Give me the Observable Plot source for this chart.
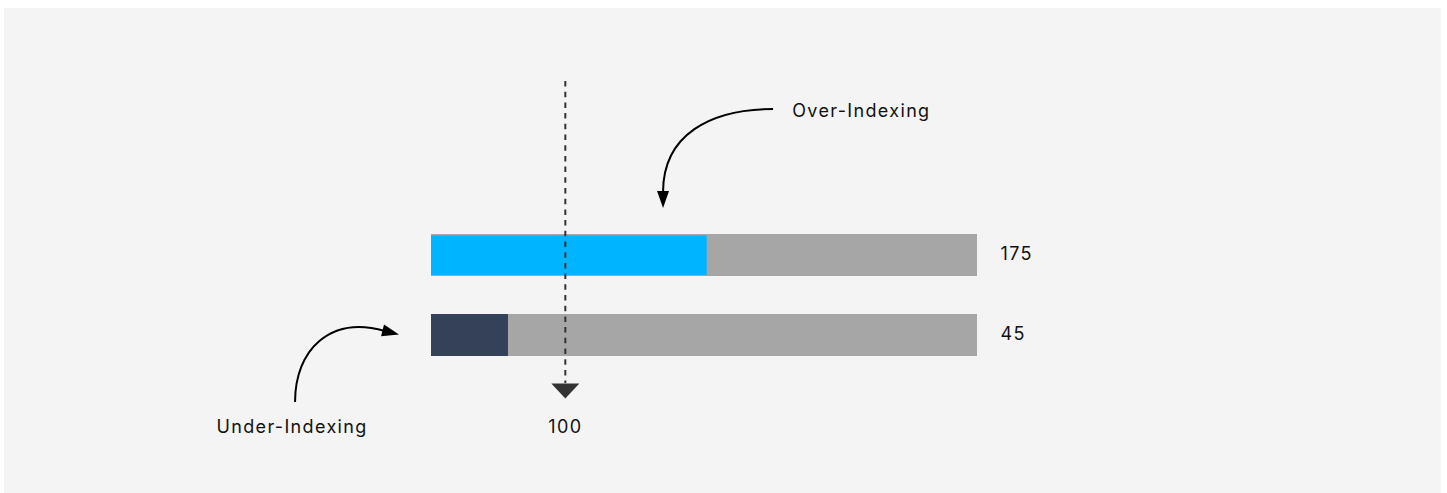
<!DOCTYPE html>
<html><head><meta charset="utf-8">
<script src="https://cdn.jsdelivr.net/npm/d3@7"></script>
<script src="https://cdn.jsdelivr.net/npm/@observablehq/plot@0.6"></script>
<style>
html,body{margin:0;padding:0;background:#fff;}
#panel{position:absolute;left:4px;top:8px;width:1437px;height:485px;background:#f4f4f4;}
#panel svg{display:block;overflow:visible;}
</style></head><body><div id="panel"></div>
<script>
// ---- data ----
const categories = ["Over-Indexing", "Under-Indexing"];
const indexLabels = [175, 45];          // numbers printed at the right of each bar
const fillLengths = [206, 57.5];        // filled part of each bar, in index units
const trackMax = 408;                   // full length of the grey track, in index units
const referenceIndex = [100];           // dashed reference line

const rows = categories.map((c, i) => ({cat: c, fill: fillLengths[i], label: indexLabels[i]}));

const W = 1437, H = 485;
const font = "Inter, 'Open Sans', sans-serif";

const tri = {draw(ctx) { ctx.moveTo(-14, -7.5); ctx.lineTo(14, -7.5); ctx.lineTo(0, 7.5); ctx.closePath(); }};

const chart = Plot.plot({
  width: W, height: H,
  marginLeft: 427, marginRight: 464, marginTop: 73, marginBottom: 110,
  x: {domain: [0, trackMax], axis: null},
  y: {domain: categories, range: [188, 386], padding: 0.475, axis: null},
  color: {domain: categories, range: ["#00b4ff", "#344158"]},
  style: {background: "transparent", fontFamily: font, fontSize: "18px", color: "#111", letterSpacing: "1.35px"},
  marks: [
    Plot.barX(rows, {x1: () => 0, x2: () => trackMax, y: "cat", fill: "#a5a6a5"}),
    Plot.barX(rows, {filter: d => d.cat === categories[0], x1: () => 0, x2: "fill", y: "cat", fill: "cat", insetTop: 1.5, insetBottom: 1}),
    Plot.barX(rows, {filter: d => d.cat === categories[1], x1: () => 0, x2: "fill", y: "cat", fill: "cat"}),
    Plot.text(rows, {x: () => trackMax, y: "cat", text: d => String(d.label), dx: 23, dy: -1, textAnchor: "start", fill: "#111", fontSize: 18}),
    Plot.ruleX(referenceIndex, {x: d => d, stroke: "#333", strokeWidth: 2, strokeDasharray: "5.5,5.2"}),
    Plot.dot(referenceIndex, {x: d => d, frameAnchor: "bottom", symbol: tri, r: 10, fill: "#333", stroke: "none", dy: 7.5}),
    Plot.text(referenceIndex, {x: d => d, frameAnchor: "bottom", text: d => String(d), dy: 49, fill: "#111", fontSize: 18}),
    Plot.text([categories[0]], {x: () => 269.5, y: d => d, text: d => d, dy: -144, textAnchor: "start", fill: "#111", fontSize: 18}),
    Plot.text([categories[1]], {x: () => -160.7, y: d => d, text: d => d, dy: 92, textAnchor: "start", fill: "#111", fontSize: 18})
  ]
});
document.getElementById("panel").appendChild(chart);

// ---- curved annotation arrows, positioned through the plot's scales ----
const sx = chart.scale("x").apply, sy = chart.scale("y").apply;
const arrows = [
  {cat: categories[0], pts: [[255.6, -125], [208.5, -125], [173.4, -99], [173.4, -42]], tip: [173.4, -26]},
  {cat: categories[1], pts: [[-101.6, 88], [-101.6, 36], [-75.5, 1], [-34.4, 17]], tip: [-23.9, 20.5]}
];
const svg = d3.select(chart);
const g = svg.append("g").attr("class", "annotations");
for (const a of arrows) {
  const top = sy(a.cat);
  const P = a.pts.map(([v, o]) => [sx(v), top + o]);
  const T = [sx(a.tip[0]), top + a.tip[1]];
  g.append("path")
    .attr("d", `M${P[0]}C${P[1]} ${P[2]} ${P[3]}`)
    .attr("fill", "none").attr("stroke", "#000").attr("stroke-width", 2);
  const dx = T[0] - P[3][0], dy = T[1] - P[3][1], len = Math.hypot(dx, dy);
  const ux = dx / len, uy = dy / len, L = 17, w = 6;
  const B = [T[0] - L * ux, T[1] - L * uy];
  g.append("path")
    .attr("d", `M${T}L${B[0] - w * uy},${B[1] + w * ux}L${B[0] + w * uy},${B[1] - w * ux}Z`)
    .attr("fill", "#000");
}
</script></body></html>
